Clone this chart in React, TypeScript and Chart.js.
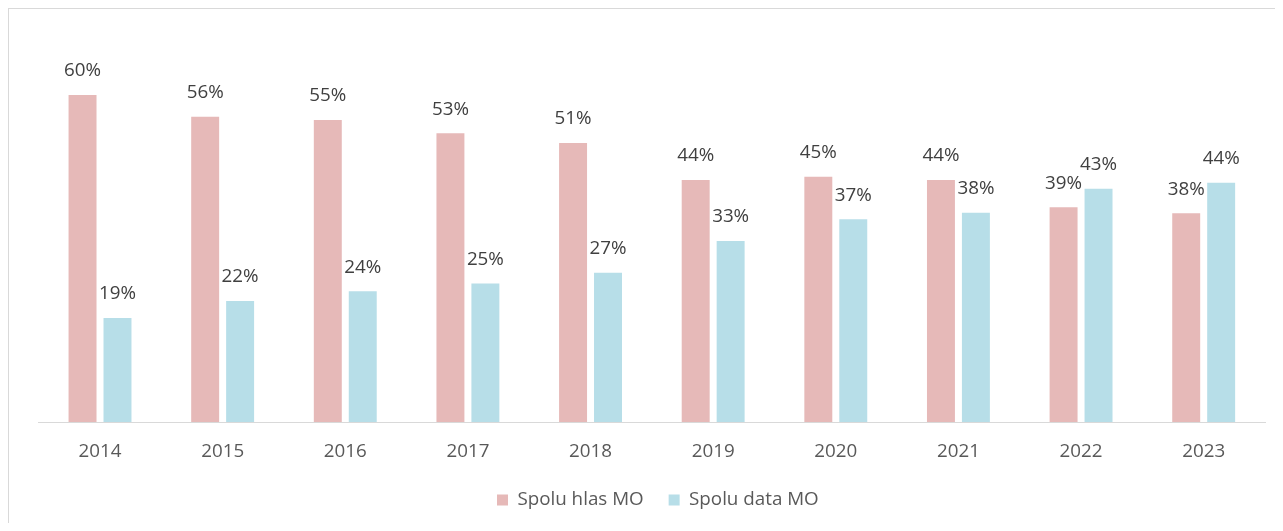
import React, { useEffect, useRef } from "react";
import { Chart, registerables } from "chart.js";

Chart.register(...registerables);

const categories = ["2014", "2015", "2016", "2017", "2018", "2019", "2020", "2021", "2022", "2023"];
const hlasValues = [60.0, 56.0, 55.4, 53.0, 51.2, 44.4, 45.0, 44.4, 39.4, 38.3];
const dataValues = [19.1, 22.2, 24.0, 25.4, 27.4, 33.2, 37.2, 38.4, 42.8, 43.9];
const seriesNames = ["Spolu hlas MO", "Spolu data MO"];

const FONT = "'Open Sans', 'Noto Sans', sans-serif";
const FS = 18.8;
const LEG_PAD = 25;

const labelPlugin = {
  id: "barLabels",
  afterLayout(chart: any) {
    if (chart.legend) {
      chart.legend.left += 6;
      chart.legend.right += 6;
    }
  },
  afterDatasetsDraw(chart: any) {
    const ctx = chart.ctx;
    ctx.save();
    ctx.font = `${FS}px ${FONT}`;
    ctx.fillStyle = "#404040";
    ctx.textAlign = "center";
    ctx.textBaseline = "middle";
    chart.data.datasets.forEach((ds: any, di: number) => {
      const meta = chart.getDatasetMeta(di);
      meta.data.forEach((bar: any, i: number) => {
        const v = Math.round(ds.data[i]);
        ctx.fillText(`${v}%`, bar.x, bar.y - 24);
      });
    });
    ctx.restore();
  },
};

export default function App() {
  const ref = useRef<HTMLCanvasElement>(null);
  useEffect(() => {
    document.body.style.overflow = "hidden";
    if (!ref.current) return;
    const chart = new Chart(ref.current, {
      type: "bar",
      data: {
        labels: categories,
        datasets: [
          {
            label: seriesNames[0],
            data: hlasValues,
            backgroundColor: "#E6B9B8",
            barPercentage: 0.8,
            categoryPercentage: 0.57,
          },
          {
            label: seriesNames[1],
            data: dataValues,
            backgroundColor: "#B7DEE8",
            barPercentage: 0.8,
            categoryPercentage: 0.57,
          },
        ],
      },
      options: {
        animation: false,
        responsive: false,
        maintainAspectRatio: false,
        layout: { padding: { left: 29.7, right: 10, top: 31.5, bottom: 3.6 } },
        plugins: {
          tooltip: { enabled: false },
          legend: {
            position: "bottom",
            labels: {
              boxWidth: 11,
              boxHeight: 11,
              padding: LEG_PAD,
              color: "#595959",
              font: { family: FONT, size: FS },
            },
          },
        },
        scales: {
          x: {
            grid: { display: false, drawTicks: false },
            border: { display: true, color: "#D9D9D9", width: 1 },
            ticks: { color: "#595959", font: { family: FONT, size: FS }, padding: 18 },
            afterFit: (scale: any) => {
              scale.height = 68.6 - LEG_PAD;
            },
          },
          y: {
            display: false,
            min: 0,
            max: 70,
          },
        },
      },
      plugins: [labelPlugin],
    });
    return () => chart.destroy();
  }, []);
  return (
    <div
      style={{
        width: 1290,
        height: 515,
        boxSizing: "border-box",
        borderLeft: "1px solid #D9D9D9",
        borderTop: "1px solid #D9D9D9",
        overflow: "hidden",
        background: "#fff",
      }}
    >
      <canvas ref={ref} width={1266} height={514} style={{ display: "block" }} />
    </div>
  );
}
